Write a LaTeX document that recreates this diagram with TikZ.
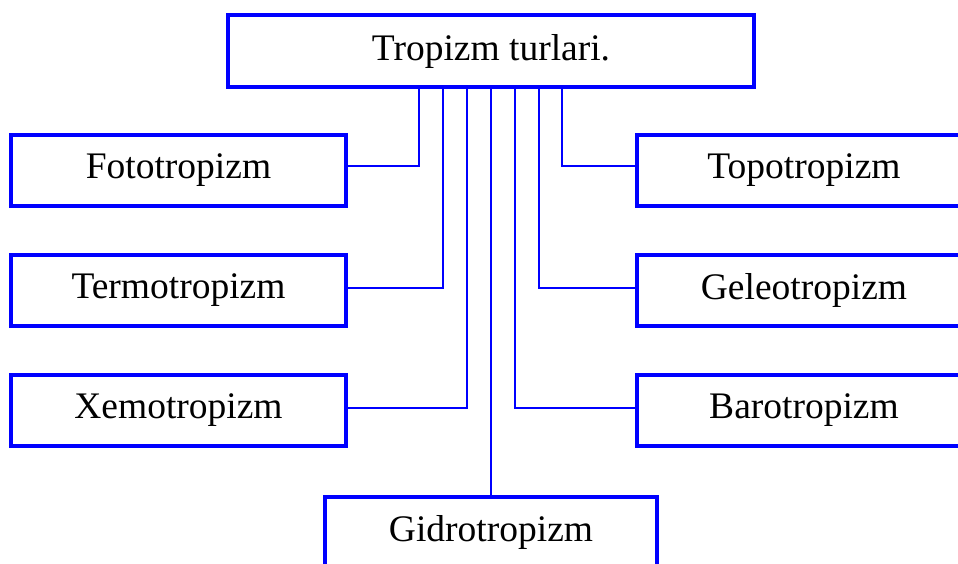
\documentclass[tikz,border=0pt]{standalone}
\usepackage{fontspec}
\setmainfont{Liberation Serif}
\begin{document}
\begin{tikzpicture}[x=1pt,y=-1pt,
  boxstyle/.style={draw=blue, line width=4pt, minimum height=71pt, inner sep=0pt,
    font=\fontsize{37.5}{44}\selectfont, text=black},
  sidebox/.style={boxstyle, minimum width=335pt},
  link/.style={draw=blue, line width=1.6pt}]
\useasboundingbox (0,0) rectangle (958,563);
\clip (0,0) rectangle (958,563);
\node[boxstyle, minimum width=526.5pt, minimum height=72pt] (top) at (491,51) {Tropizm turlari.};
\node[sidebox] (foto) at (178.5,170) {Fototropizm};
\node[sidebox] (termo) at (178.5,290) {Termotropizm};
\node[sidebox] (xemo) at (178.5,410) {Xemotropizm};
\node[sidebox] (topo) at (804,170) {Topotropizm};
\node[sidebox] (geleo) at (804,290) {Geleotropizm};
\node[sidebox] (baro) at (804,410) {Barotropizm};
\node[boxstyle, minimum width=332.5pt] (gidro) at (491,532) {Gidrotropizm};
\draw[link] ([xshift=-72pt]top.south) |- ([yshift=4pt]foto.east);
\draw[link] ([xshift=-48pt]top.south) |- ([yshift=2pt]termo.east);
\draw[link] ([xshift=-24pt]top.south) |- ([yshift=2pt]xemo.east);
\draw[link] (top.south) -- (gidro.north);
\draw[link] ([xshift=24pt]top.south) |- ([yshift=2pt]baro.west);
\draw[link] ([xshift=48pt]top.south) |- ([yshift=2pt]geleo.west);
\draw[link] ([xshift=71pt]top.south) |- ([yshift=4pt]topo.west);
\end{tikzpicture}
\end{document}
